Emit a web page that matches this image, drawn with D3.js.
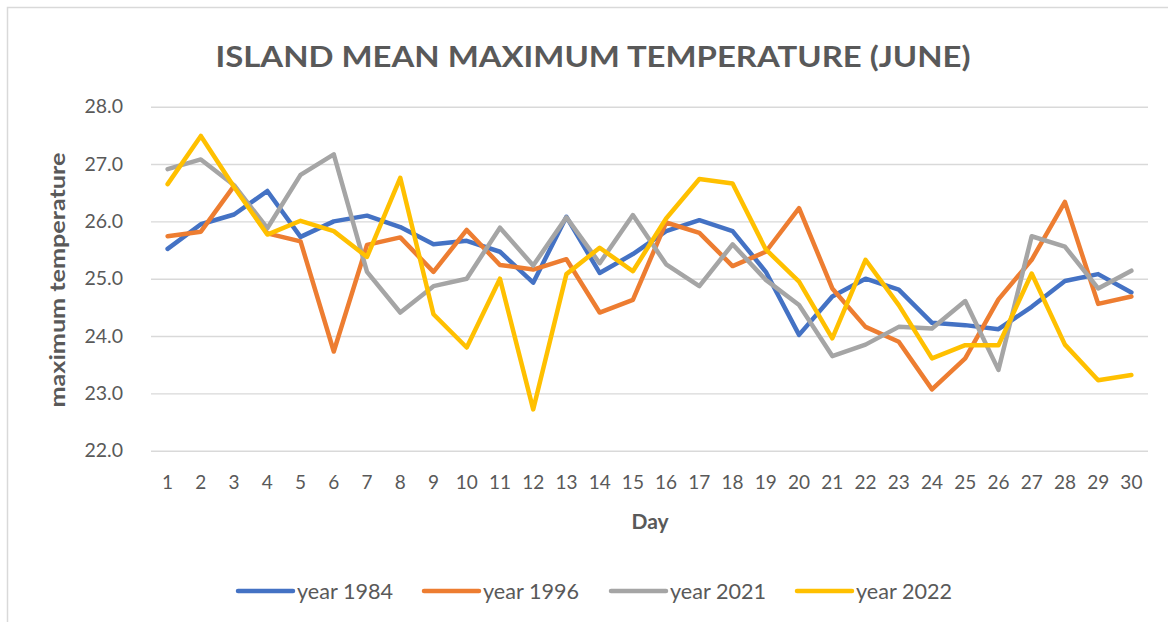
<!DOCTYPE html>
<html>
<head>
<meta charset="utf-8">
<script src="https://cdn.jsdelivr.net/npm/d3@7"></script>
<style>
  html, body { margin: 0; padding: 0; background: #fff; }
  svg { display: block; }
  text { font-family: Lato, "Open Sans", sans-serif; fill: #595959; }
</style>
</head>
<body>
<svg id="chart" width="1168" height="622"></svg>
<script>
const days = d3.range(1, 31).map(String);
const yTicks = [22, 23, 24, 25, 26, 27, 28];
const seriesNames = ["year 1984", "year 1996", "year 2021", "year 2022"];
const seriesColors = ["#4472C4", "#ED7D31", "#A5A5A5", "#FFC000"];

const year1984 = [25.52, 25.95, 26.12, 26.53, 25.73, 26.0, 26.1, 25.9, 25.6, 25.66,
                  25.47, 24.93, 26.08, 25.1, 25.43, 25.83, 26.02, 25.83, 25.12, 24.02,
                  24.69, 25.0, 24.81, 24.23, 24.19, 24.12, 24.51, 24.96, 25.08, 24.76];
const year1996 = [25.74, 25.82, 26.62, 25.79, 25.65, 23.73, 25.59, 25.72, 25.12, 25.85,
                  25.24, 25.16, 25.34, 24.41, 24.63, 25.98, 25.8, 25.22, 25.47, 26.23,
                  24.83, 24.16, 23.9, 23.07, 23.61, 24.64, 25.33, 26.34, 24.56, 24.69];
const year2021 = [26.91, 27.08, 26.63, 25.88, 26.81, 27.17, 25.12, 24.41, 24.87, 25.0,
                  25.89, 25.23, 26.07, 25.27, 26.11, 25.25, 24.87, 25.6, 24.98, 24.54,
                  23.65, 23.85, 24.16, 24.13, 24.61, 23.41, 25.74, 25.56, 24.83, 25.14];
const year2022 = [26.65, 27.49, 26.6, 25.77, 26.01, 25.83, 25.38, 26.76, 24.38, 23.8,
                  25.0, 22.72, 25.08, 25.54, 25.13, 26.05, 26.74, 26.66, 25.51, 24.95,
                  23.96, 25.33, 24.54, 23.61, 23.84, 23.84, 25.09, 23.85, 23.23, 23.32];
const seriesValues = [year1984, year1996, year2021, year2022];

const svg = d3.select("#chart");
const plot = { left: 151, right: 1148, top: 106.7, bottom: 450.7 };

// chart border (cropped at right and bottom)
svg.append("path")
  .attr("d", "M7.5,640 V7.5 H1200")
  .attr("fill", "none").attr("stroke", "#d9d9d9").attr("stroke-width", 1.5);

const x = d3.scaleBand().domain(days).range([plot.left, plot.right]);
const y = d3.scaleLinear().domain([22, 28]).range([plot.bottom, plot.top]);

// gridlines + y ticks
const yAxis = d3.axisLeft(y).tickValues(yTicks).tickSize(-(plot.right - plot.left))
  .tickPadding(28).tickFormat(d3.format(".1f"));
const gy = svg.append("g").attr("transform", `translate(${plot.left},0)`).call(yAxis);
gy.select(".domain").remove();
gy.selectAll(".tick line").attr("stroke", "#d9d9d9").attr("stroke-width", 1.4);
gy.selectAll(".tick text").attr("font-size", 19.5).attr("fill", "#595959")
  .style("font-family", "Lato, sans-serif");

const xAxis = d3.axisBottom(x).tickSize(0).tickPadding(25);
const gx = svg.append("g").attr("transform", `translate(0,${plot.bottom})`).call(xAxis);
gx.select(".domain").remove();
gx.selectAll(".tick text").attr("font-size", 19).attr("fill", "#595959")
  .style("font-family", "Lato, sans-serif");

// lines
const line = d3.line().x((d, i) => x(days[i]) + x.bandwidth() / 2).y(d => y(d));
seriesValues.forEach((vals, k) => {
  svg.append("path").datum(vals)
    .attr("d", line)
    .attr("fill", "none")
    .attr("stroke", seriesColors[k])
    .attr("stroke-width", 4.5)
    .attr("stroke-linejoin", "round")
    .attr("stroke-linecap", "round");
});

// title
svg.append("text").attr("x", 593).attr("y", 67).attr("text-anchor", "middle")
  .attr("font-size", 29).attr("font-weight", "bold")
  .attr("textLength", 755).attr("lengthAdjust", "spacingAndGlyphs")
  .text("ISLAND MEAN MAXIMUM TEMPERATURE (JUNE)");

// axis titles
svg.append("text").attr("transform", "translate(65,280) rotate(-90)")
  .attr("text-anchor", "middle").attr("font-size", 20).attr("font-weight", "bold")
  .attr("textLength", 255).attr("lengthAdjust", "spacingAndGlyphs")
  .text("maximum temperature");
svg.append("text").attr("x", 650).attr("y", 529).attr("text-anchor", "middle")
  .attr("font-size", 21).attr("font-weight", "bold").text("Day");

// legend
const legendX = [238, 424, 611, 797];
const lg = svg.append("g");
seriesNames.forEach((name, k) => {
  lg.append("line").attr("x1", legendX[k]).attr("x2", legendX[k] + 55)
    .attr("y1", 591).attr("y2", 591)
    .attr("stroke", seriesColors[k]).attr("stroke-width", 4.5).attr("stroke-linecap", "round");
  lg.append("text").attr("x", legendX[k] + 59).attr("y", 598.5)
    .attr("font-size", 20.5)
    .attr("textLength", 96).attr("lengthAdjust", "spacingAndGlyphs")
    .text(name);
});
</script>
</body>
</html>
